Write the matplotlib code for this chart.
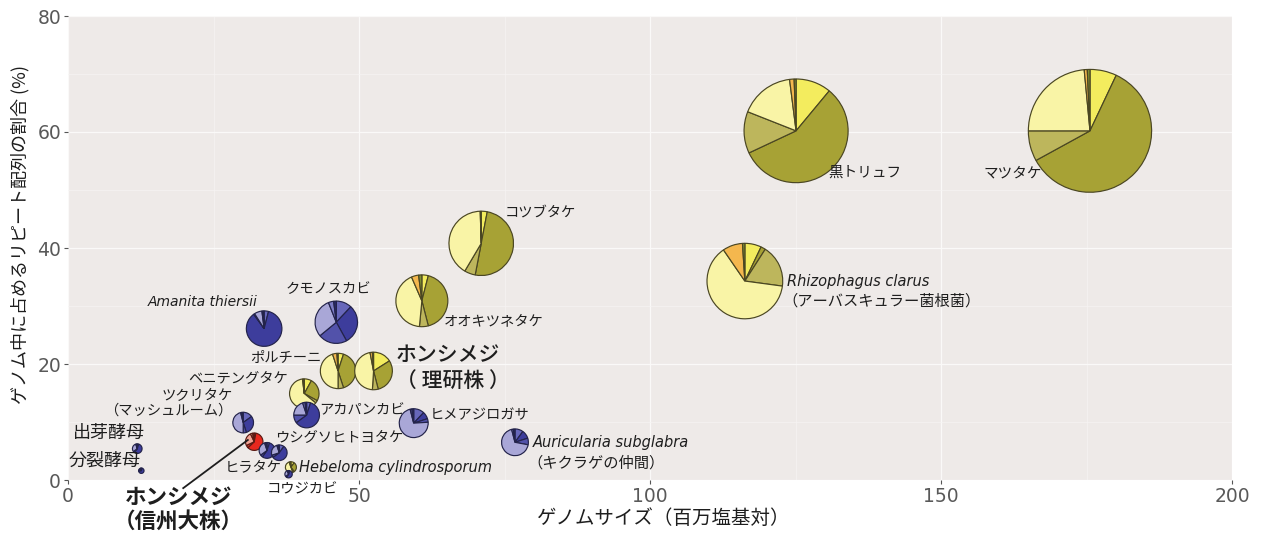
import matplotlib
matplotlib.use("Agg")
import matplotlib.pyplot as plt
from matplotlib.patches import Wedge
import numpy as np

JP = ['Noto Sans CJK JP', 'DejaVu Sans']
plt.rcParams['font.family'] = JP

# ---------------- data ----------------
species = ['黒トリュフ', 'マツタケ', 'コツブタケ', 'オオキツネタケ', 'Rhizophagus clarus',
           'クモノスカビ', 'Amanita thiersii', 'ポルチーニ', 'ホンシメジ(理研株)', 'ベニテングタケ',
           'アカパンカビ', 'ヒメアジロガサ', 'Auricularia subglabra', 'ツクリタケ', 'ホンシメジ(信州大株)',
           'ヒラタケ', 'ウシグソヒトヨタケ', 'Hebeloma cylindrosporum', 'コウジカビ', '出芽酵母', '分裂酵母']
genome_size = [125.1, 175.6, 71.0, 60.8, 116.3,
               46.1, 33.7, 46.4, 52.5, 40.6,
               41.0, 59.4, 76.8, 30.1, 32.0,
               34.2, 36.3, 38.3, 37.9, 11.9, 12.6]
repeat_pct = [60.2, 60.2, 40.8, 30.9, 34.3,
              27.2, 26.1, 18.8, 18.8, 14.9,
              11.2, 9.8, 6.5, 9.9, 6.6,
              5.1, 4.7, 2.2, 1.0, 5.4, 1.6]
group = ['Y', 'Y', 'Y', 'Y', 'Y',
         'B', 'B', 'Y', 'Y', 'Y',
         'B', 'B', 'B', 'B', 'R',
         'B', 'B', 'Y', 'B', 'B', 'B']
# repeat class composition (fractions, clockwise from 12 o'clock)
class_1 = [0.11, 0.07, 0.03, 0.04, 0.07, 0.12, 0.04, 0.05, 0.16, 0.08, 0.05, 0.12, 0.10, 0.15, 0.03, 0.05, 0.10, 0.10, 0.05, 0.05, 0.05]
class_2 = [0.57, 0.60, 0.50, 0.42, 0.02, 0.30, 0.86, 0.40, 0.30, 0.25, 0.60, 0.08, 0.10, 0.30, 0.60, 0.55, 0.55, 0.30, 0.55, 0.55, 0.70]
class_3 = [0.13, 0.08, 0.055, 0.055, 0.18, 0.22, 0.01, 0.05, 0.05, 0.03, 0.10, 0.04, 0.08, 0.05, 0.05, 0.05, 0.05, 0.05, 0.05, 0.05, 0.05]
class_4 = [0.17, 0.235, 0.41, 0.42, 0.63, 0.30, 0.07, 0.45, 0.46, 0.62, 0.20, 0.72, 0.68, 0.46, 0.25, 0.30, 0.25, 0.50, 0.30, 0.30, 0.15]
class_5 = [0.014, 0.008, 0.0, 0.045, 0.085, 0.04, 0.01, 0.04, 0.02, 0.01, 0.03, 0.02, 0.02, 0.02, 0.04, 0.03, 0.03, 0.03, 0.03, 0.03, 0.03]
class_6 = [0.006, 0.007, 0.005, 0.02, 0.01, 0.02, 0.01, 0.01, 0.01, 0.01, 0.02, 0.02, 0.02, 0.02, 0.03, 0.02, 0.02, 0.02, 0.02, 0.02, 0.02]

xticks = [0, 50, 100, 150, 200]
yticks = [0, 20, 40, 60, 80]

palettes = {
    'Y': ['#F3EC5E', '#A7A235', '#BDB65C', '#F9F4A6', '#F4B74E', '#7F8F30'],
    'B': ['#6767BA', '#3D3D9C', '#5252AA', '#A9A7D7', '#7C7CC4', '#2A2A70'],
    'R': ['#F06A4C', '#E8281E', '#DD3A2A', '#F3A596', '#F5C0A0', '#A02020'],
}
edge = {'Y': '#4A4622', 'B': '#23234A', 'R': '#5A1A14'}

# ---------------- figure ----------------
W, H = 1263, 536
fig = plt.figure(figsize=(W / 100, H / 100), dpi=100)
fig.patch.set_facecolor('white')
ax = fig.add_axes([68 / W, 56 / H, (1232 - 68) / W, 464 / H])
ax.set_facecolor('#EEEAE8')
ax.set_xlim(0, 200)
ax.set_ylim(0, 80)
ax.set_xticks(xticks)
ax.set_yticks(yticks)
ax.set_xticks([25, 75, 125, 175], minor=True)
ax.set_yticks([10, 30, 50, 70], minor=True)
ax.grid(True, which='major', color='#FAF9F8', lw=0.9)
ax.grid(True, which='minor', color='#F6F4F3', lw=0.5)
ax.set_axisbelow(True)
for s in ax.spines.values():
    s.set_visible(False)
ax.tick_params(which='major', length=3, width=0.8, color='#555555', labelcolor='#595959',
               labelsize=13.5, pad=2)
ax.tick_params(which='minor', length=0)
for lab in ax.get_xticklabels() + ax.get_yticklabels():
    lab.set_family('DejaVu Sans')

# pies
comp = np.array([class_1, class_2, class_3, class_4, class_5, class_6]).T
for i in range(len(species)):
    gx, gy = genome_size[i], repeat_pct[i]
    r = 1.03 * np.sqrt(gx * gy / 100.0)
    fr = comp[i] / comp[i].sum()
    cum = np.concatenate([[0], np.cumsum(fr)])
    cols = palettes[group[i]]
    for k in range(len(fr)):
        if fr[k] <= 0:
            continue
        t1 = 90 - 360 * cum[k + 1]
        t2 = 90 - 360 * cum[k]
        ax.add_patch(Wedge((gx, gy), r, t1, t2, facecolor=cols[k],
                           edgecolor=edge[group[i]], lw=0.85, zorder=3))

# labels
def jt(x, y, s, size=10.3, ha='left', **kw):
    ax.text(x, y, s, fontsize=size, ha=ha, va='center', family=JP, color='#1E1E1E',
            zorder=5, **kw)

def it(x, y, s, size=10.3, ha='left'):
    ax.text(x, y, s, fontsize=size, ha=ha, va='center', family='DejaVu Sans',
            style='italic', color='#1E1E1E', zorder=5)

jt(130.6, 52.9, '黒トリュフ', 10.5)
jt(167.4, 52.9, 'マツタケ', 10.5, ha='right')
jt(75.1, 46.2, 'コツブタケ')
jt(64.6, 27.4, 'オオキツネタケ')
it(123.5, 34.3, 'Rhizophagus clarus', 10.5)
jt(122.7, 30.9, '（アーバスキュラー菌根菌）', 11)
jt(44.7, 32.9, 'クモノスカビ', ha='center')
it(32.5, 30.7, 'Amanita thiersii', 10, ha='right')
jt(43.5, 21.0, 'ポルチーニ', ha='right')
jt(56.3, 21.6, 'ホンシメジ', 15, fontweight='medium')
jt(56.3, 16.9, '（ 理研株 ）', 15, fontweight='medium')
jt(37.8, 17.4, 'ベニテングタケ', ha='right')
jt(28.3, 14.5, 'ツクリタケ', ha='right')
jt(28.3, 11.9, '（マッシュルーム）', ha='right')
jt(0.9, 8.1, '出芽酵母', 13)
jt(12.4, 3.4, '分裂酵母', 13, ha='right')
jt(43.1, 12.1, 'アカパンカビ')
jt(62.2, 11.2, 'ヒメアジロガサ')
it(79.9, 6.4, 'Auricularia subglabra', 10.5)
jt(79.0, 2.9, '（キクラゲの仲間）', 11)
jt(35.6, 7.2, 'ウシグソヒトヨタケ')
jt(36.8, 2.2, 'ヒラタケ', ha='right')
it(39.7, 2.2, 'Hebeloma cylindrosporum', 10.5)
jt(34.2, -1.7, 'コウジカビ')
jt(19.0, -3.0, 'ホンシメジ', 15.5, ha='center', fontweight='bold')
jt(19.0, -7.1, '（信州大株）', 15.5, ha='center', fontweight='bold')
ax.plot([30.9, 19.8], [6.9, -1.4], color='#1E1E1E', lw=1.3, clip_on=False, zorder=4)

# axis titles
fig.text(664 / W, 1 - 518 / H, 'ゲノムサイズ（百万塩基対）', fontsize=14, ha='center', va='center',
         family=JP, color='#1E1E1E')
fig.text(20 / W, 1 - 234 / H, 'ゲノム中に占めるリピート配列の割合 (%)', fontsize=13, ha='center',
         va='center', rotation=90, family=JP, color='#1E1E1E')

fig.savefig('out.png', dpi=100)
